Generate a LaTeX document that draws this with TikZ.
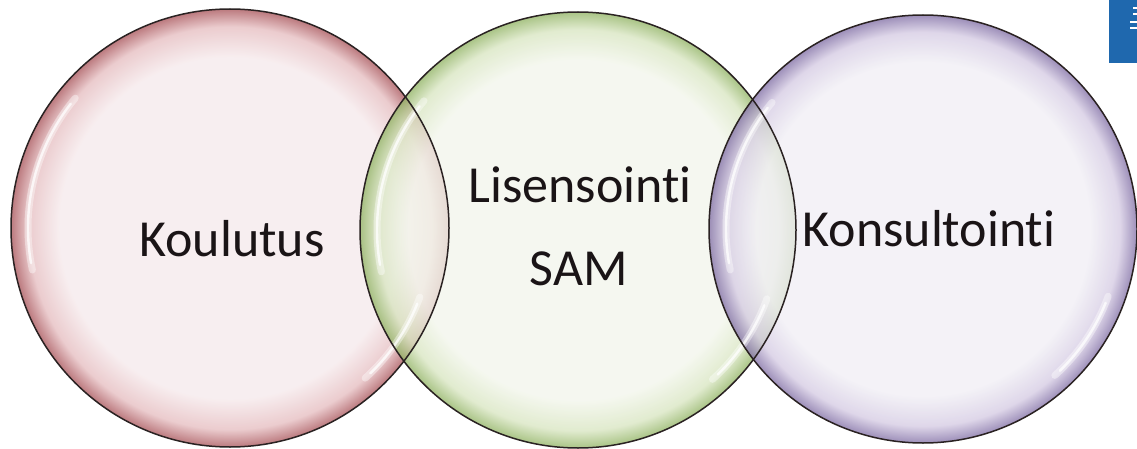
\documentclass[tikz,border=0pt]{standalone}
\usepackage{fontspec}
\setmainfont{Carlito}[Ligatures={NoCommon}]
\definecolor{redc}{HTML}{F6EAEC}
\definecolor{redm}{HTML}{E6BEC1}
\definecolor{rede}{HTML}{A9555B}
\definecolor{grnc}{HTML}{F3F6EC}
\definecolor{grnm}{HTML}{D9E6C2}
\definecolor{grne}{HTML}{92B465}
\definecolor{purc}{HTML}{F1EFF5}
\definecolor{purm}{HTML}{D6CCE4}
\definecolor{pure}{HTML}{8270A6}
\definecolor{rimline}{HTML}{2A2222}
\definecolor{txt}{HTML}{1A1416}
\definecolor{badge}{HTML}{1F68AE}
\pgfdeclareradialshading{redglass}{\pgfpoint{0bp}{0bp}}{color(0bp)=(redc); color(19.5bp)=(redc); color(23bp)=(redm); color(25bp)=(rede); color(50bp)=(rede)}
\pgfdeclareradialshading{grnglass}{\pgfpoint{0bp}{0bp}}{color(0bp)=(grnc); color(19.5bp)=(grnc); color(23bp)=(grnm); color(25bp)=(grne); color(50bp)=(grne)}
\pgfdeclareradialshading{purglass}{\pgfpoint{0bp}{0bp}}{color(0bp)=(purc); color(19.5bp)=(purc); color(23bp)=(purm); color(25bp)=(pure); color(50bp)=(pure)}
\tikzset{
  bubble/.style={fill opacity=0.78},
  rim/.style={draw=rimline, line width=1.5pt},
  hlwide/.style={draw=white, line width=7pt, opacity=0.4, line cap=round},
  hlthin/.style={draw=white, line width=2.4pt, opacity=0.75, line cap=round},
  label/.style={text=txt, font=\fontsize{52}{82}\selectfont, align=center, inner sep=0pt, anchor=base}
}
\begin{document}
\begin{tikzpicture}[x=1pt,y=-1pt]
\useasboundingbox (0,0) rectangle (1137,449);
\fill[white] (0,0) rectangle (1137,449);
% circles
\coordinate (cr) at (230,228);
\coordinate (cg) at (578,230);
\coordinate (cp) at (923,229);
\shade[shading=redglass, bubble] (cr) circle[radius=219pt];
\shade[shading=grnglass, bubble] (cg) circle[radius=218pt];
\shade[shading=purglass, bubble] (cp) circle[radius=214pt];
% highlights
\foreach \c/\r in {cr/202, cg/201, cp/197}{
  \draw[hlwide] (\c) ++(140:\r pt) arc[start angle=140, end angle=192, radius=\r pt];
  \draw[hlthin] (\c) ++(142:\r pt) arc[start angle=142, end angle=190, radius=\r pt];
  \draw[hlwide] (\c) ++(-20:\r pt) arc[start angle=-20, end angle=-48, radius=\r pt];
  \draw[hlthin] (\c) ++(-22:\r pt) arc[start angle=-22, end angle=-46, radius=\r pt];
}
% outlines
\draw[rim] (cr) circle[radius=219pt];
\draw[rim] (cg) circle[radius=218pt];
\draw[rim] (cp) circle[radius=214pt];
% labels
\node[label] (koul) at (232,256) {Koulutus};
\node[label] (lis) at (580,203) {Lisensointi};
\node[label] (sam) at (579,285) {SAM};
\node[label] (kons) at (929,246) {Konsultointi};
% corner badge
\fill[badge] (1109,0) rectangle (1137,63);
\draw[white, line width=1.6pt] (1130,22) -- (1137,22);
\draw[white, line width=1.6pt] (1130,28) -- (1137,28);
\draw[white, line width=1.2pt] (1133,8) -- (1137,8);
\draw[white, line width=1.2pt] (1133,14) -- (1137,14);
\end{tikzpicture}
\end{document}
